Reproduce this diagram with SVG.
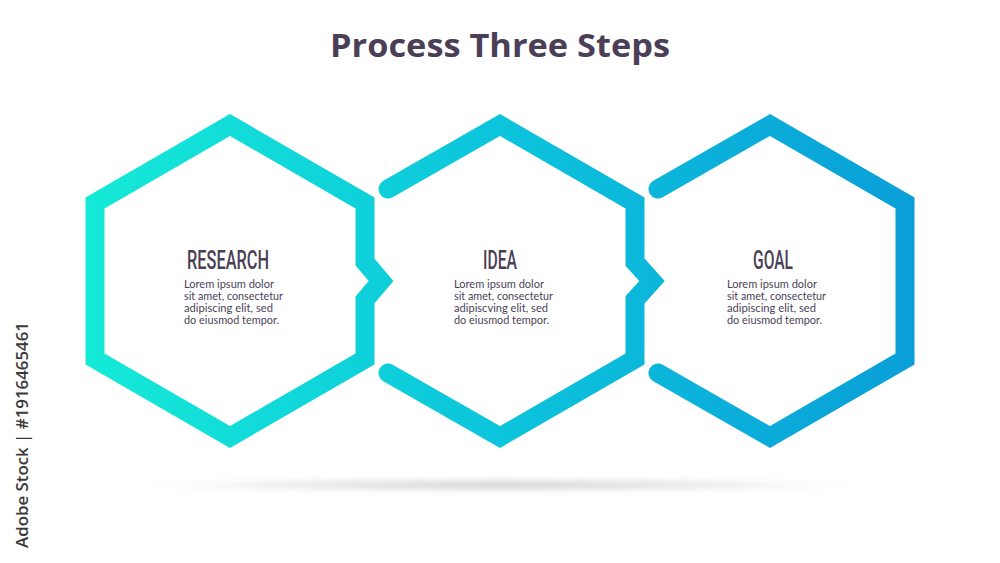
<svg xmlns="http://www.w3.org/2000/svg" width="1000" height="563" viewBox="0 0 1000 563">
  <defs>
    <linearGradient id="hexGrad" gradientUnits="userSpaceOnUse" x1="85" y1="0" x2="916" y2="0">
      <stop offset="0" stop-color="#15ead7"/>
      <stop offset="0.5" stop-color="#0cc4dc"/>
      <stop offset="1" stop-color="#0a9ed8"/>
    </linearGradient>
    <radialGradient id="shadowGrad" cx="0.5" cy="0.5" r="0.5">
      <stop offset="0" stop-color="#c4c4c4" stop-opacity="0.95"/>
      <stop offset="0.6" stop-color="#d8d8d8" stop-opacity="0.55"/>
      <stop offset="1" stop-color="#ffffff" stop-opacity="0"/>
    </radialGradient>
    <filter id="blur" x="-10%" y="-200%" width="120%" height="500%">
      <feGaussianBlur stdDeviation="3"/>
    </filter>
  </defs>
  <style>
    .hex { fill: none; stroke: url(#hexGrad); stroke-width: 19; stroke-linejoin: miter; stroke-miterlimit: 10; stroke-linecap: round; }
    .title { font-family: "Open Sans", "Liberation Sans", sans-serif; font-weight: 700; font-size: 32px; fill: #4b3f57; }
    .head { font-family: Roboto, "Liberation Sans", sans-serif; font-weight: 500; font-size: 26px; fill: #4b3f57; }
    .body { font-family: Lato, "Liberation Sans", sans-serif; font-size: 11.5px; fill: #4b3f57; }
    .mark { font-family: "Open Sans", "Liberation Sans", sans-serif; font-weight: 600; font-size: 17px; fill: #3a3a3a; }
  </style>
  <rect width="1000" height="563" fill="#ffffff"/>

  <text class="title" x="500" y="57" text-anchor="middle" textLength="340" lengthAdjust="spacingAndGlyphs">Process Three Steps</text>

  <ellipse cx="500" cy="485" rx="400" ry="7" fill="url(#shadowGrad)" filter="url(#blur)"/>

  <g id="connectors"></g>

  <g id="node-research">
    <path class="hex" d="M230,125 L365,203 L365,262 L381,281 L365,300 L365,359 L230,437 L95,359 L95,203 Z"/>
    <text class="head" x="228" y="269" text-anchor="middle" textLength="82" lengthAdjust="spacingAndGlyphs">RESEARCH</text>
    <text class="body" x="184" y="288" textLength="90" lengthAdjust="spacingAndGlyphs">Lorem ipsum dolor</text>
    <text class="body" x="184" y="300" textLength="99" lengthAdjust="spacingAndGlyphs">sit amet, consectetur</text>
    <text class="body" x="184" y="312" textLength="89" lengthAdjust="spacingAndGlyphs">adipiscing elit, sed</text>
    <text class="body" x="184" y="324" textLength="95" lengthAdjust="spacingAndGlyphs">do eiusmod tempor.</text>
  </g>

  <g id="node-idea">
    <path class="hex" d="M388,189 L500,125 L635,203 L635,262 L652,281 L635,300 L635,359 L500,437 L388,373"/>
    <text class="head" x="500" y="269" text-anchor="middle" textLength="34" lengthAdjust="spacingAndGlyphs">IDEA</text>
    <text class="body" x="454" y="288" textLength="90" lengthAdjust="spacingAndGlyphs">Lorem ipsum dolor</text>
    <text class="body" x="454" y="300" textLength="99" lengthAdjust="spacingAndGlyphs">sit amet, consectetur</text>
    <text class="body" x="454" y="312" textLength="94" lengthAdjust="spacingAndGlyphs">adipiscving elit, sed</text>
    <text class="body" x="454" y="324" textLength="95" lengthAdjust="spacingAndGlyphs">do eiusmod tempor.</text>
  </g>

  <g id="node-goal">
    <path class="hex" d="M658,189 L770,125 L905,203 L905,359 L770,437 L658,373"/>
    <text class="head" x="773" y="269" text-anchor="middle" textLength="40" lengthAdjust="spacingAndGlyphs">GOAL</text>
    <text class="body" x="727" y="288" textLength="90" lengthAdjust="spacingAndGlyphs">Lorem ipsum dolor</text>
    <text class="body" x="727" y="300" textLength="99" lengthAdjust="spacingAndGlyphs">sit amet, consectetur</text>
    <text class="body" x="727" y="312" textLength="89" lengthAdjust="spacingAndGlyphs">adipiscing elit, sed</text>
    <text class="body" x="727" y="324" textLength="95" lengthAdjust="spacingAndGlyphs">do eiusmod tempor.</text>
  </g>

  <text class="mark" transform="translate(28,548) rotate(-90)" textLength="226" lengthAdjust="spacingAndGlyphs">Adobe Stock | #1916465461</text>
</svg>
